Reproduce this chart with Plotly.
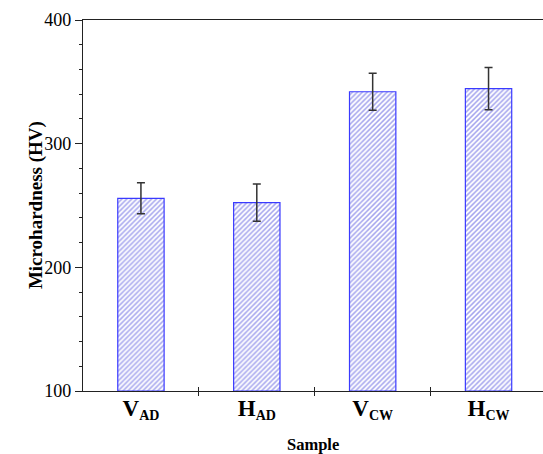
import plotly.graph_objects as go

categories = ["V<sub>AD</sub>", "H<sub>AD</sub>", "V<sub>CW</sub>", "H<sub>CW</sub>"]
positions = [0, 1, 2, 3]
hardness = [255.8, 252.3, 342.0, 344.5]
errors = [12.5, 15.0, 15.0, 17.0]
boundary_ticks = [0.5, 1.5, 2.5]
x_title = "Sample"
y_title = "Microhardness (HV)"

font_family = "Liberation Serif, Times New Roman, serif"
axis_color = "#222222"


def big_main(label):
    main, rest = label.split("<sub>", 1)
    return f"<span style='font-size:23px'>{main}</span><sub>{rest}"


fig = go.Figure()
fig.add_trace(go.Bar(
    x=positions, y=[v - 100 for v in hardness], base=100, width=0.4,
    marker=dict(color="white", line=dict(color="#3a3aff", width=1.2),
                pattern=dict(shape="/", fgcolor="#5050dd", bgcolor="white", size=3.5, solidity=0.45)),
    error_y=dict(type="data", array=errors, color="#333333", thickness=1.5, width=4),
    showlegend=False,
))
# invisible trace to anchor secondary x axis (inside ticks)
fig.add_trace(go.Scatter(x=[0], y=[100], xaxis="x2", mode="markers",
                         marker=dict(opacity=0), showlegend=False, hoverinfo="skip"))

fig.update_layout(
    width=543, height=454,
    margin=dict(l=83, r=0, t=20, b=63, autoexpand=False),
    plot_bgcolor="white", paper_bgcolor="white",
    font=dict(family=font_family, color="black", size=16),
    xaxis=dict(
        range=[-0.5, 3.47], tickvals=positions, ticktext=[big_main(c) for c in categories],
        ticks="", showline=True, linecolor=axis_color, linewidth=1.2, mirror=True,
        showgrid=False, zeroline=False, automargin=False,
        tickfont=dict(size=20, family=font_family, weight="bold"),
        minor=dict(tickvals=boundary_ticks, ticks="outside", ticklen=4, tickcolor=axis_color, tickwidth=1.2),
    ),
    xaxis2=dict(
        range=[-0.5, 3.47], overlaying="x", anchor="y", side="bottom",
        tickvals=boundary_ticks, ticks="inside", ticklen=4, tickcolor=axis_color, tickwidth=1.2,
        showticklabels=False, showgrid=False, zeroline=False, showline=False, automargin=False,
    ),
    yaxis=dict(
        range=[100, 400], tickvals=[100, 200, 300, 400],
        ticks="outside", ticklen=7, tickcolor=axis_color, tickwidth=1.2,
        showline=True, linecolor=axis_color, linewidth=1.2,
        showgrid=False, zeroline=False, automargin=False,
        tickfont=dict(size=18),
        minor=dict(dtick=20, ticks="outside", ticklen=3, tickcolor=axis_color, tickwidth=1.2),
    ),
    annotations=[
        dict(text=f"<b>{x_title}</b>", xref="paper", yref="paper", x=0.5, y=-0.143,
             xanchor="center", yanchor="middle", showarrow=False, font=dict(size=16.5)),
        dict(text=f"<b>{y_title}</b>", xref="paper", yref="paper", x=-0.103, y=0.5,
             xanchor="center", yanchor="middle", textangle=-90, showarrow=False, font=dict(size=19)),
    ],
)

fig.write_html(
    "out.html",
    config={"displayModeBar": False},
    post_script="document.body.style.margin='0';document.body.style.overflow='hidden';",
)
